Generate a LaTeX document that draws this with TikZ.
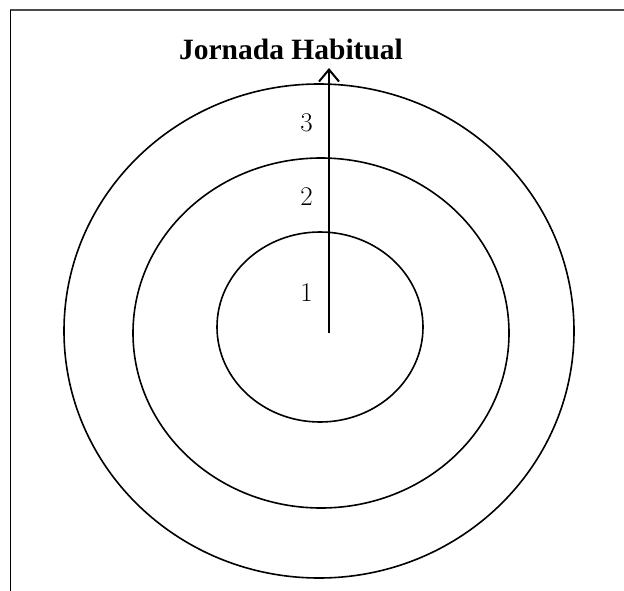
\documentclass[tikz,border=0pt]{standalone}
\usepackage{fontspec}
\newfontfamily\titlefont{Liberation Serif}
\usetikzlibrary{arrows.meta}

\begin{document}
\begin{tikzpicture}[
    x=1pt, y=-1pt,
    band/.style={line width=1.6pt},
    bandlab/.style={font=\fontsize{27}{30}\selectfont, inner sep=0pt},
    title/.style={font=\titlefont\bfseries\fontsize{29.5}{32}\selectfont, inner sep=0pt, anchor=base}
]
\useasboundingbox (0,0) rectangle (624,591);
\draw[black!70, line width=1.6pt] (10,10) -- (624,10);
\draw[line width=0.9pt] (10.5,10) -- (10.5,591);

\draw[band] (319,331) ellipse [x radius=255, y radius=247];
\draw[band] (321,333) ellipse [x radius=188, y radius=175];
\draw[band] (320,327) ellipse [x radius=103, y radius=95];

\coordinate (centre) at (329,333);
\coordinate (tip) at (329,68);
\draw[line width=2pt, -{Straight Barb[length=12pt, width=20pt]}] (centre) -- (tip);

\node[title] (jornada) at (291,60) {Jornada Habitual};
\node[bandlab] (three) at (306.5,123) {3};
\node[bandlab] (two) at (306.5,197) {2};
\node[bandlab] (one) at (306.5,293) {1};
\end{tikzpicture}
\end{document}
